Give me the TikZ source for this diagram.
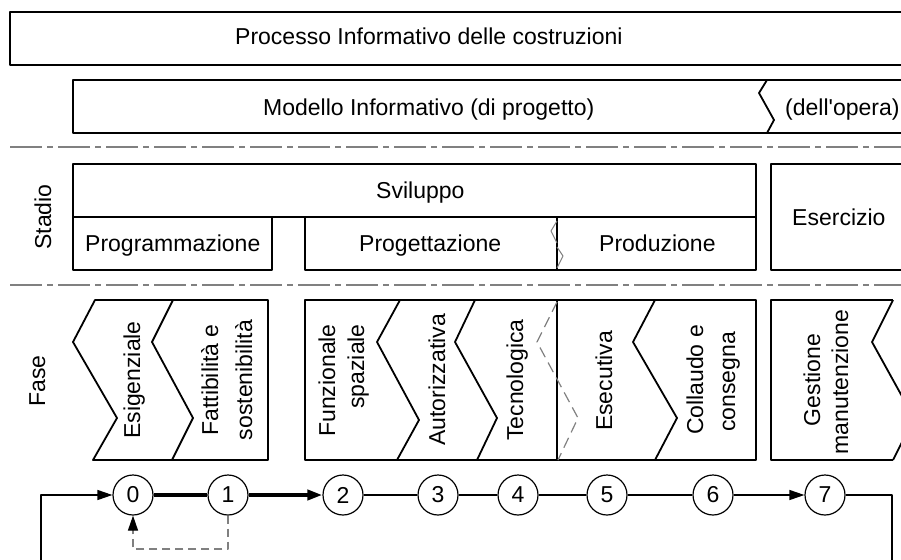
\documentclass[tikz,border=0pt]{standalone}
\usepackage{fontspec}
\setmainfont{Liberation Sans}
\usetikzlibrary{arrows.meta}
\begin{document}
\begin{tikzpicture}[x=1pt,y=-1pt,line join=round,
  box/.style={line width=1.8pt,draw=black},
  brk/.style={line width=1pt,draw=gray},
  lbl/.style={inner sep=0pt,font=\fontsize{23}{27}\selectfont},
  hl/.style={lbl,anchor=base west},
  vl/.style={lbl,rotate=90,anchor=base},
  num/.style={circle,draw,line width=1.2pt,minimum size=40pt,inner sep=0pt,font=\fontsize{23}{27}\selectfont},
  thinc/.style={line width=1.2pt},
  thickc/.style={line width=4pt},
  tip/.style={-{Triangle[length=15pt,width=10pt]}},
  dtip/.style={-{Triangle[length=15pt,width=10pt,color=black]}},
  dashc/.style={line width=1.2pt,draw=gray,dash pattern=on 8pt off 5pt},
  dashchev/.style={line width=1.2pt,draw=gray,dash pattern=on 11pt off 6pt},
  dashdot/.style={line width=1.4pt,draw=gray,dash pattern=on 32pt off 5pt on 6pt off 5pt}]
\useasboundingbox (0,0) rectangle (901,559);
\clip (0,0) rectangle (901,559);
% top bars
\draw[box] (920,12) -- (10,12) -- (10,65) -- (920,65);
\node[hl] (tproc) at (235,45) {Processo Informativo delle costruzioni};
\draw[box] (920,80) -- (73,80) -- (73,133) -- (920,133);
\draw[box] (767,80) -- (759,93) -- (774,120) -- (767,133);
\node[hl] (tmod) at (263,115) {Modello Informativo (di progetto)};
\node[hl] (topera) at (785,115) {{\addfontfeatures{Ligatures=TeXOff}(dell'opera)}};
% separators
\draw[dashdot] (10,147) -- (905,147);
\draw[dashdot] (10,285) -- (905,285);
% stadio
\node[vl] (tstadio) at (51,217) {Stadio};
\draw[box] (73,164) rectangle (756,217);
\draw[box] (73,217) rectangle (272,270);
\draw[box] (305,217) rectangle (756,270);
\draw[box] (557,217) -- (557,270);
\draw[brk] (557,221) -- (551,231) -- (557,243);
\draw[brk] (557,247) -- (563,256) -- (557,268);
\draw[box] (920,164) -- (771,164) -- (771,270) -- (920,270);
\node[hl] (tsvil) at (376,198) {Sviluppo};
\node[hl] (tprog) at (85,251) {Programmazione};
\node[hl] (tproget) at (359,251) {Progettazione};
\node[hl] (tprod) at (599,251) {Produzione};
\node[hl] (teser) at (792,225) {Esercizio};
% fase
\node[vl] (tfase) at (45,381) {Fase};
\draw[box] (95,300) -- (73,342) -- (117,418) -- (93,460) -- (268,460) -- (268,300) -- cycle;
\draw[box] (173,300) -- (152,342) -- (193,418) -- (172,460);
\draw[box] (305,300) rectangle (756,460);
\draw[box] (400,300) -- (377,342) -- (419,420) -- (397,460);
\draw[box] (475,300) -- (455,342) -- (497,418) -- (477,460);
\draw[box] (557,300) -- (557,460);
\draw[dashchev] (557,302) -- (537,342) -- (578,418) -- (558,460);
\draw[box] (655,300) -- (633,342) -- (677,418) -- (655,460);
\draw[box] (893,300) -- (771,300) -- (771,460) -- (893,460);
\draw[box] (893,300) -- (872,342) -- (914,418) -- (893,460);
\node[vl] (tesig) at (140,380) {Esigenziale};
\node[vl] (tfatt) at (218,380) {Fattibilità e};
\node[vl] (tsost) at (252,380) {sostenibilità};
\node[vl,anchor=base east] (tfunz) at (335,324) {Funzionale};
\node[vl,anchor=base east] (tspaz) at (364,324) {spaziale};
\node[vl] (taut) at (445,380) {Autorizzativa};
\node[vl] (ttec) at (523,380) {Tecnologica};
\node[vl] (tese) at (612,381) {Esecutiva};
\node[vl] (tcoll) at (703,380) {Collaudo e};
\node[vl] (tcons) at (735,382) {consegna};
\node[vl] (tgest) at (820,380) {Gestione};
\node[vl] (tmanu) at (848,382) {manutenzione};
% circles
\node[num] (c0) at (133,495) {0};
\node[num] (c1) at (228,495) {1};
\node[num] (c2) at (343,495) {2};
\node[num] (c3) at (438,495) {3};
\node[num] (c4) at (518,495) {4};
\node[num] (c5) at (607,495) {5};
\node[num] (c6) at (713,495) {6};
\node[num] (c7) at (825,495) {7};
\draw[thickc] (c0) -- (c1);
\draw[thickc,tip] (c1) -- (c2);
\draw[thinc] (c2) -- (c3);
\draw[thinc] (c3) -- (c4);
\draw[thinc] (c4) -- (c5);
\draw[thinc] (c5) -- (c6);
\draw[thinc,tip] (c6) -- (c7);
\coordinate (rEnd) at (892,575);
\draw[thinc] (c7.east) -| (rEnd);
\coordinate (lEnd) at (41,575);
\draw[thinc,tip] (lEnd) |- (c0.west);
\coordinate (dEnd) at (133,549);
\draw[dashc,dtip] (c1.south) |- (dEnd) -- (c0.south);
\end{tikzpicture}
\end{document}
